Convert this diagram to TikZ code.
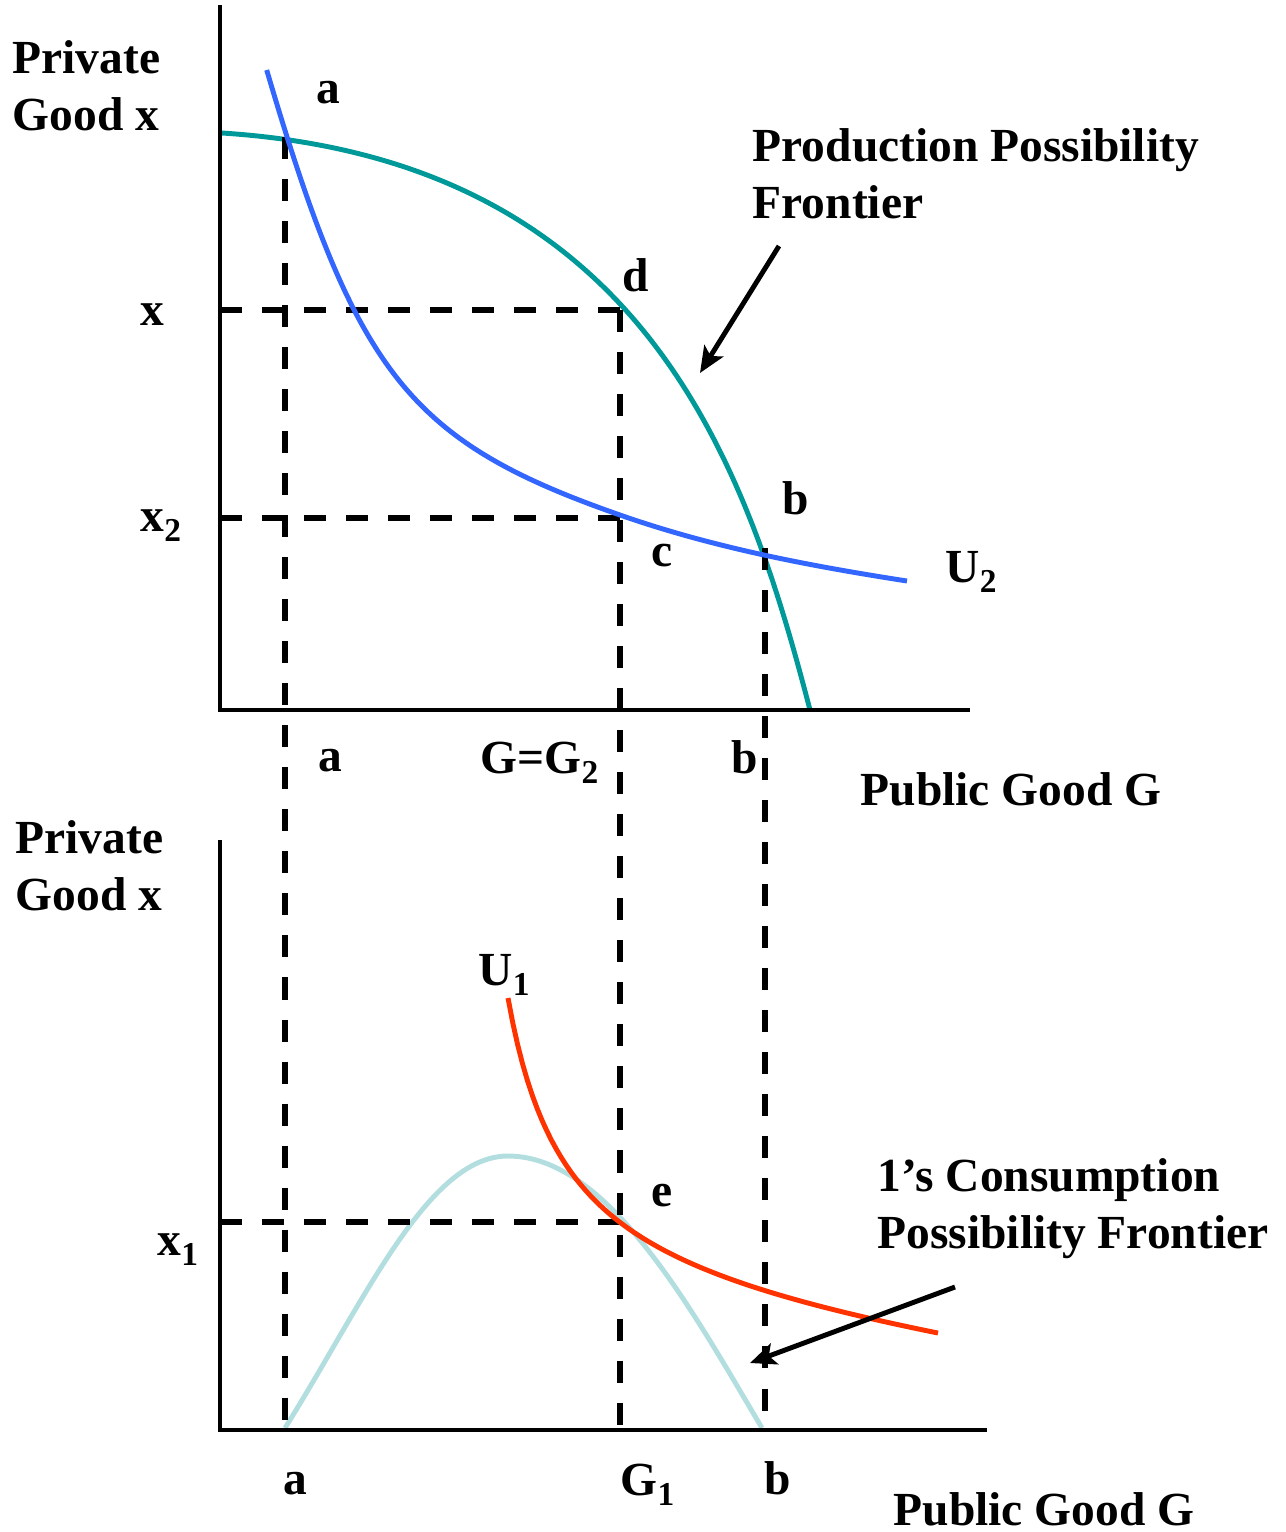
\documentclass[tikz,border=0pt]{standalone}
\usepackage{fontspec}
\setmainfont{Liberation Serif}
\usepackage{tikz}
\usetikzlibrary{arrows.meta}
\definecolor{cppf}{HTML}{009999}
\definecolor{cutil}{HTML}{3366FF}
\definecolor{cone}{HTML}{FF3300}
\definecolor{ccpf}{HTML}{B3DEE0}
\newcommand{\lowidx}[1]{\raisebox{-0.23em}{\fontsize{9.5}{10}\selectfont #1}}
\begin{document}
\begin{tikzpicture}[x=0.01cm,y=-0.01cm,
  lbl/.style={font=\fontsize{13.5}{16.2}\selectfont\bfseries,inner sep=0pt},
  guide/.style={line width=1.7pt,dash pattern=on 0.22cm off 0.2cm},
  curve/.style={line width=1.4pt},
  axis/.style={line width=1.4pt},
  pointer/.style={line width=1.4pt,-{Stealth[length=0.26cm,width=0.22cm,inset=0.06cm]}}]
\useasboundingbox (0,0) rectangle (1286,1532);
% curves under the guides
\draw[curve,cppf] (222,133) .. controls (642,160) and (745,460) .. (810,710);
\draw[curve,ccpf] (285,1428) .. controls (365,1300) and (428,1156) .. (508,1156)
  .. controls (608,1156) and (692,1310) .. (762,1428);
% guides
\draw[guide] (285,137)--(285,1430) (620,310)--(620,1430) (765,548)--(765,1430);
\draw[guide] (220,310)--(620,310) (220,518)--(620,518) (220,1222)--(620,1222);
% axes
\draw[axis] (220,5)--(220,712) (218,710)--(970,710);
\draw[axis] (220,840)--(220,1432) (218,1430)--(987,1430);
% indifference curves
\draw[curve,cutil] (266.7,70) .. controls (356.3,374.6) and (409.3,441.4) .. (620,515)
  .. controls (715,548.2) and (812,566.2) .. (907,581);
\draw[curve,cone] plot[domain=508:938,samples=90] (\x,{1253.9-185.2/((\x-450)/100)+0.1248*\x});
% labels top panel
\node[lbl,anchor=north west,align=left] (ytop) at (12,40) {Private\\Good x};
\node[lbl,anchor=base] (ptA) at (328,103) {a};
\node[lbl,anchor=north west,align=left] (ppf) at (752,128) {Production Possibility\\Frontier};
\node[lbl,anchor=base] (ptD) at (636,291) {d};
\node[lbl,anchor=base] (xlev) at (152,325) {x};
\node[lbl,anchor=base west] (xtwo) at (140,531) {x\lowidx{2}};
\node[lbl,anchor=base] (ptB) at (796,514) {b};
\node[lbl,anchor=base] (ptC) at (662,566) {c};
\node[lbl,anchor=base west] (utwo) at (945,582) {U\lowidx{2}};
\node[lbl,anchor=base] (ga) at (330,771) {a};
\node[lbl,anchor=base west] (gtwo) at (480,773) {G=G\lowidx{2}};
\node[lbl,anchor=base] (gb) at (745,773) {b};
\node[lbl,anchor=north west] (xtop) at (860,772) {Public Good G};
% labels bottom panel
\node[lbl,anchor=north west,align=left] (ybot) at (15,820) {Private\\Good x};
\node[lbl,anchor=base west] (uone) at (478,985) {U\lowidx{1}};
\node[lbl,anchor=base] (ptE) at (662,1206) {e};
\node[lbl,anchor=north west,align=left] (cpf) at (877,1158) {1’s Consumption\\Possibility Frontier};
\node[lbl,anchor=base west] (xone) at (157,1255) {x\lowidx{1}};
\node[lbl,anchor=base] (ha) at (295,1494) {a};
\node[lbl,anchor=base west] (gone) at (620,1495) {G\lowidx{1}};
\node[lbl,anchor=base] (hb) at (778,1494) {b};
\node[lbl,anchor=north west] (xbot) at (893,1492) {Public Good G};
% pointers
\coordinate (ppftip) at (700,373);
\coordinate (ppftail) at (779,246);
\coordinate (cpftip) at (750,1363);
\coordinate (cpftail) at (955,1287);
\draw[pointer] (ppftail)--(ppftip);
\draw[pointer] (cpftail)--(cpftip);
\end{tikzpicture}
\end{document}
